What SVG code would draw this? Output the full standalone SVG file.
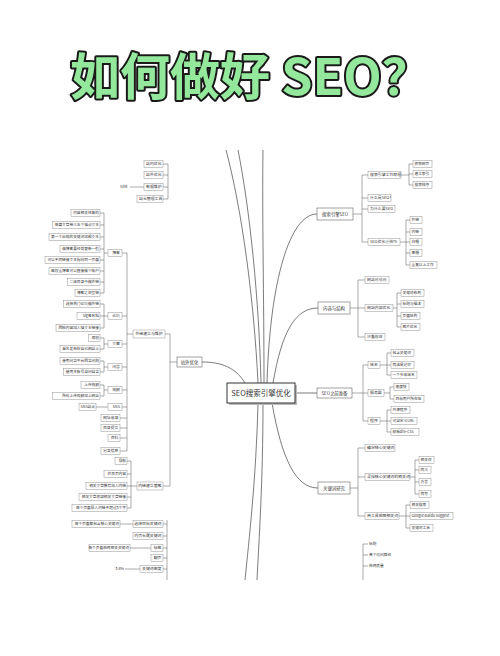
<svg xmlns="http://www.w3.org/2000/svg" width="500" height="656" viewBox="0 0 500 656">
<style>
text{font-family:"Noto Sans CJK SC","Noto Sans",sans-serif;fill:#333}
.lf{font-size:3.7px}
.nd{font-size:3.9px}
.mn{font-size:4.4px}
.L text{text-anchor:end}
.bx{fill:#fff;stroke:#888;stroke-width:0.45}
.mb{fill:#fff;stroke:#666;stroke-width:0.6}
.ln{fill:none;stroke:#555;stroke-width:0.5}
.cv{fill:none;stroke:#444;stroke-width:0.7}
.ttl{font-size:50px;font-weight:bold;fill:#93e89c;stroke:#1a1a1a;stroke-width:4;paint-order:stroke;stroke-linejoin:round}
</style>
<rect width="500" height="656" fill="#fff"/>
<text class="ttl" x="70" y="95">如何做好 SEO？</text>

<g id="connectors">
<path class="cv" d="M202,362 C222,362 236,368 245,383"/>
<path class="cv" d="M258,383 C254,300 242,210 226,150"/>
<path class="cv" d="M261,383 C259,300 250,210 238,150"/>
<path class="cv" d="M264,383 C264,300 262,210 263,150"/>
<path class="cv" d="M267,383 C270,280 290,214 317,214"/>
<path class="cv" d="M273,383 C282,330 296,308 318,308"/>
<path class="cv" d="M295,393 H317"/>
<path class="cv" d="M272,403 C282,460 296,488 318,488"/>
<path class="cv" d="M258,403 C256,480 249,540 245,580"/>
<path class="cv" d="M263,403 C263,480 259,540 257,580"/>
<path class="ln" d="M168,164V199M163,164H168M163,175H168M163,187H168M163,199H168M130,187H144"/>
<path class="ln" d="M104,213V293M100,213H104M100,225H104M100,237H104M100,249H104M100,260H104M100,271H104M100,282H104M100,293H104M104,253H108"/>
<path class="ln" d="M104,304V328M100,304H104M100,316H104M100,328H104M104,316H108"/>
<path class="ln" d="M104,338V349M100,338H104M100,349H104M104,344H108"/>
<path class="ln" d="M104,361V372M100,361H104M100,372H104M104,367H108"/>
<path class="ln" d="M104,385V396M100,385H104M100,396H104M104,390H108"/>
<path class="ln" d="M96,407H108"/>
<path class="ln" d="M127,253V451M122,253H127M122,316H127M122,344H127M122,367H127M122,390H127M122,407H127M120,418H127M120,428H127M120,438H127M120,451H127M127,334H133"/>
<path class="ln" d="M165,334H170M170,334V486M170,362H177"/>
<path class="ln" d="M131,461V508M127,461H131M127,474H131M127,486H131M127,497H131M127,508H131M131,486H137M163,486H170"/>
<path class="ln" d="M167,520V580M120,524H133M163,524H167M163,536H167M130,548H151M163,548H167M163,558H167M125,569H140M163,569H167"/>
<path class="ln" d="M353,214H362M362,175V242M362,175H368M362,198H368M362,209H368M362,242H368"/>
<path class="ln" d="M401,175H409M409,164V185M409,164H413M409,174H413M409,185H413"/>
<path class="ln" d="M400,242H406M406,220V265M406,220H410M406,232H410M406,242H410M406,253H410M406,265H410"/>
<path class="ln" d="M350,308H358M358,280V337M358,280H365M358,308H365M358,337H365"/>
<path class="ln" d="M393,308H397M397,293V327M397,293H401M397,304H401M397,316H401M397,327H401"/>
<path class="ln" d="M352,393H363M363,365V421M363,365H368M363,393H368M363,421H368"/>
<path class="ln" d="M380,365H387M387,353V375M387,353H391M387,365H391M387,375H391"/>
<path class="ln" d="M384,393H390M390,387V399M390,387H394M390,399H394"/>
<path class="ln" d="M380,421H387M387,410V432M387,410H391M387,421H391M387,432H391"/>
<path class="ln" d="M350,488H358M358,448V516M358,448H365M358,477H365M358,516H365"/>
<path class="ln" d="M410,477H415M415,460V494M415,460H419M415,470H419M415,482H419M415,494H419"/>
<path class="ln" d="M399,516H406M406,505V528M406,505H410M406,516H410M406,528H410"/>
<path class="ln" d="M363,544V580M363,544H368M363,555H368M363,566H368"/>
</g>

<g id="center">
<rect x="229" y="385" width="68" height="20" fill="#bbb"/>
<rect x="227" y="383" width="68" height="20" fill="#fff" stroke="#333" stroke-width="1"/>
<text x="261" y="396" font-size="7.5" text-anchor="middle">SEO搜索引擎优化</text>
</g>

<g id="top-left">
<rect class="bx" x="144" y="160.5" width="19" height="7"/><text class="nd" x="146" y="165.4">站内优化</text>
<rect class="bx" x="144" y="171.5" width="19" height="7"/><text class="nd" x="146" y="176.4">站外优化</text>
<rect class="bx" x="144" y="183.5" width="19" height="7"/><text class="nd" x="146" y="188.4">数据维护</text>
<rect class="bx" x="137" y="195.5" width="26" height="7"/><text class="nd" x="139" y="200.4">站长管理工具</text>
<text class="lf" x="120" y="188.3">SEM</text>
</g>

<g id="zhanwai">
<rect class="mb" x="177" y="357" width="25" height="10"/><text class="mn" x="189.5" y="363.5" text-anchor="middle">站外优化</text>
<rect class="bx" x="133" y="330" width="32" height="8"/><text class="nd" x="149" y="335.4" text-anchor="middle">外链建立与维护</text>
</g>

<g id="boke" class="L">
<rect class="bx" x="108" y="249.5" width="14" height="7"/><text class="nd" x="120" y="254.4">博客</text>
<rect class="bx" x="71" y="209.5" width="29" height="7"/><text class="lf" x="99" y="214.3">内容相关性高的</text>
<rect class="bx" x="52.5" y="221.5" width="47.5" height="7"/><text class="lf" x="99" y="226.3">每篇文章带三五个锚点文本</text>
<rect class="bx" x="49" y="233.5" width="51" height="7"/><text class="lf" x="99" y="238.3">第一个出现的关键词加粗文本</text>
<rect class="bx" x="60" y="245.5" width="40" height="7"/><text class="lf" x="99" y="250.3">做博客要经常更新一些</text>
<rect class="bx" x="45" y="256.5" width="55" height="7"/><text class="lf" x="99" y="261.3">可以不同链接文本指向同一页面</text>
<rect class="bx" x="49" y="267.5" width="51" height="7"/><text class="lf" x="99" y="272.3">高权重博客可以直接做个账户</text>
<rect class="bx" x="67.5" y="278.5" width="32.5" height="7"/><text class="lf" x="99" y="283.3">二级目录中做外链</text>
<rect class="bx" x="75" y="289.5" width="25" height="7"/><text class="lf" x="99" y="294.3">博客之间互链</text>
</g>

<g id="luntan" class="L">
<rect class="bx" x="108" y="312.5" width="14" height="7"/><text class="nd" x="120" y="317.4">论坛</text>
<rect class="bx" x="63.5" y="300.5" width="36.5" height="7"/><text class="lf" x="99" y="305.3">选择热门论坛做外链</text>
<rect class="bx" x="77" y="312.5" width="23" height="7"/><text class="lf" x="99" y="317.3">Sig签名档</text>
<rect class="bx" x="56" y="324.5" width="44" height="7"/><text class="lf" x="99" y="329.3">回帖内容加入锚文本链接</text>
</g>

<g id="wenzhang" class="L">
<rect class="bx" x="108" y="340.5" width="14" height="7"/><text class="nd" x="120" y="345.4">文章</text>
<rect class="bx" x="88.5" y="334.5" width="11.5" height="7"/><text class="lf" x="99" y="339.3">原创</text>
<rect class="bx" x="60" y="345.5" width="40" height="7"/><text class="lf" x="99" y="350.3">首先发布在自己网站上</text>
</g>

<g id="wenda" class="L">
<rect class="bx" x="108" y="363.5" width="14" height="7"/><text class="nd" x="120" y="368.4">问答</text>
<rect class="bx" x="60" y="357.5" width="40" height="7"/><text class="lf" x="99" y="362.3">使用问答平台回答问题</text>
<rect class="bx" x="63.5" y="368.5" width="36.5" height="7"/><text class="lf" x="99" y="373.3">使用多账号自问自答</text>
</g>

<g id="shipin" class="L">
<rect class="bx" x="108" y="386.5" width="14" height="7"/><text class="nd" x="120" y="391.4">视频</text>
<rect class="bx" x="81" y="381.5" width="19" height="7"/><text class="lf" x="99" y="386.3">上传视频</text>
<rect class="bx" x="52.5" y="392.5" width="47.5" height="7"/><text class="lf" x="99" y="397.3">所有上传视频加上网址</text>
</g>

<g id="sns" class="L">
<rect class="bx" x="108" y="403.5" width="14" height="7"/><text class="nd" x="120" y="408.4">SNS</text>
<rect class="bx" x="79" y="403.5" width="17" height="7"/><text class="lf" x="95" y="408.3">SNS站点</text>
</g>

<g id="others" class="L">
<rect class="bx" x="101" y="414.5" width="19" height="7"/><text class="nd" x="118.5" y="419.4">网址收录</text>
<rect class="bx" x="101" y="424.5" width="19" height="7"/><text class="nd" x="118.5" y="429.4">目录提交</text>
<rect class="bx" x="108" y="434.5" width="12" height="7"/><text class="nd" x="118.5" y="439.4">百科</text>
<rect class="bx" x="101" y="447.5" width="19" height="7"/><text class="nd" x="118.5" y="452.4">分类信息</text>
</g>

<g id="neilian" class="L">
<rect class="bx" x="137" y="482" width="26" height="8"/><text class="nd" x="161.5" y="487.4">内链建立策略</text>
<rect class="bx" x="115" y="457.5" width="12" height="7"/><text class="lf" x="126" y="462.3">导航</text>
<rect class="bx" x="104" y="470.5" width="23" height="7"/><text class="lf" x="126" y="475.3">栏目页内容</text>
<rect class="bx" x="86" y="482.5" width="41" height="7"/><text class="lf" x="126" y="487.3">相关文章推荐加入内链</text>
<rect class="bx" x="79" y="493.5" width="48" height="7"/><text class="lf" x="126" y="498.3">相关文章底部相关文章链接</text>
<rect class="bx" x="72" y="504.5" width="55" height="7"/><text class="lf" x="126" y="509.3">每个页面导入内链不超过3个字</text>
</g>

<g id="buju" class="L">
<rect class="bx" x="72" y="520.5" width="48" height="7"/><text class="lf" x="119" y="525.3">每个页面都包含核心关键词</text>
<rect class="bx" x="133" y="520.5" width="30" height="7"/><text class="nd" x="161.5" y="525.4">选择目标关键词</text>
<rect class="bx" x="133" y="532.5" width="30" height="7"/><text class="nd" x="161.5" y="537.4">内页长尾关键词</text>
<rect class="bx" x="89" y="544.5" width="41" height="7"/><text class="lf" x="129" y="549.3">每个页面布局相关关键词</text>
<rect class="bx" x="151" y="544.5" width="12" height="7"/><text class="nd" x="161.5" y="549.4">标签</text>
<rect class="bx" x="151" y="554.5" width="12" height="7"/><text class="nd" x="161.5" y="559.4">翻页</text>
<text class="lf" x="124" y="570.3">3-8%</text>
<rect class="bx" x="140" y="565.5" width="23" height="7"/><text class="nd" x="161.5" y="570.4">关键词密度</text>
</g>

<g id="seo-basics">
<rect class="mb" x="317" y="208" width="36" height="12"/><text class="mn" x="335" y="215.5" text-anchor="middle">搜索引擎SEO</text>
<rect class="bx" x="368" y="171.5" width="33" height="7"/><text class="nd" x="370" y="176.4">搜索引擎工作原理</text>
<rect class="bx" x="413" y="160.5" width="19" height="7"/><text class="lf" x="414.5" y="165.3">抓取网页</text>
<rect class="bx" x="413" y="170.5" width="19" height="7"/><text class="lf" x="414.5" y="175.3">建立索引</text>
<rect class="bx" x="413" y="181.5" width="19" height="7"/><text class="lf" x="414.5" y="186.3">搜索排序</text>
<rect class="bx" x="368" y="194.5" width="23" height="7"/><text class="nd" x="370" y="199.4">什么是SEO?</text>
<rect class="bx" x="368" y="205.5" width="27" height="7"/><text class="nd" x="370" y="210.4">为什么要SEO</text>
<rect class="bx" x="368" y="238.5" width="32" height="7"/><text class="nd" x="370" y="243.4">SEO优化小技巧</text>
<rect class="bx" x="410" y="216.5" width="12" height="7"/><text class="lf" x="411.5" y="221.3">外链</text>
<rect class="bx" x="410" y="228.5" width="12" height="7"/><text class="lf" x="411.5" y="233.3">内链</text>
<rect class="bx" x="410" y="238.5" width="12" height="7"/><text class="lf" x="411.5" y="243.3">白帽</text>
<rect class="bx" x="410" y="249.5" width="12" height="7"/><text class="lf" x="411.5" y="254.3">黑帽</text>
<rect class="bx" x="410" y="261.5" width="27" height="7"/><text class="lf" x="411.5" y="266.3">重复以上工作</text>
</g>

<g id="structure">
<rect class="mb" x="318" y="302" width="32" height="12"/><text class="mn" x="334" y="309.5" text-anchor="middle">内容与结构</text>
<rect class="bx" x="365" y="276.5" width="24" height="7"/><text class="nd" x="367" y="281.4">网站可访问</text>
<rect class="bx" x="365" y="304.5" width="28" height="7"/><text class="nd" x="367" y="309.4">网站内部优化</text>
<rect class="bx" x="401" y="289.5" width="23" height="7"/><text class="lf" x="402.5" y="294.3">关键词布局</text>
<rect class="bx" x="401" y="300.5" width="23" height="7"/><text class="lf" x="402.5" y="305.3">标题与描述</text>
<rect class="bx" x="401" y="312.5" width="19" height="7"/><text class="lf" x="402.5" y="317.3">页面结构</text>
<rect class="bx" x="401" y="323.5" width="19" height="7"/><text class="lf" x="402.5" y="328.3">图片优化</text>
<rect class="bx" x="365" y="333.5" width="20" height="7"/><text class="nd" x="367" y="338.4">沙盒效应</text>
</g>

<g id="prepare">
<rect class="mb" x="317" y="388" width="35" height="10"/><text class="mn" x="334.5" y="394.5" text-anchor="middle">SEO之前准备</text>
<rect class="bx" x="368" y="361.5" width="12" height="7"/><text class="nd" x="370" y="366.4">域名</text>
<rect class="bx" x="391" y="349.5" width="23" height="7"/><text class="lf" x="392.5" y="354.3">包含关键词</text>
<rect class="bx" x="391" y="361.5" width="23" height="7"/><text class="lf" x="392.5" y="366.3">简洁易记忆</text>
<rect class="bx" x="391" y="371.5" width="26" height="7"/><text class="lf" x="392.5" y="376.3">一个多级域名</text>
<rect class="bx" x="368" y="389.5" width="16" height="7"/><text class="nd" x="370" y="394.4">服务器</text>
<rect class="bx" x="394" y="383.5" width="15" height="7"/><text class="lf" x="395.5" y="388.3">速度快</text>
<rect class="bx" x="394" y="395.5" width="30" height="7"/><text class="lf" x="395.5" y="400.3">目标用户所在地</text>
<rect class="bx" x="368" y="417.5" width="12" height="7"/><text class="nd" x="370" y="422.4">程序</text>
<rect class="bx" x="391" y="406.5" width="19" height="7"/><text class="lf" x="392.5" y="411.3">开源程序</text>
<rect class="bx" x="391" y="417.5" width="26" height="7"/><text class="lf" x="392.5" y="422.3">可自定义URL</text>
<rect class="bx" x="391" y="428.5" width="28" height="7"/><text class="lf" x="392.5" y="433.3">模板div+CSS</text>
</g>

<g id="keywords">
<rect class="mb" x="318" y="482" width="32" height="12"/><text class="mn" x="334" y="489.5" text-anchor="middle">关键词研究</text>
<rect class="bx" x="365" y="444.5" width="30" height="7"/><text class="nd" x="367" y="449.4">确定核心关键词</text>
<rect class="bx" x="365" y="473.5" width="45" height="7"/><text class="nd" x="367" y="478.4">寻找核心关键词的相关词</text>
<rect class="bx" x="419" y="456.5" width="15" height="7"/><text class="lf" x="420.5" y="461.3">相关词</text>
<rect class="bx" x="419" y="466.5" width="12" height="7"/><text class="lf" x="420.5" y="471.3">同义</text>
<rect class="bx" x="419" y="478.5" width="12" height="7"/><text class="lf" x="420.5" y="483.3">方言</text>
<rect class="bx" x="419" y="490.5" width="12" height="7"/><text class="lf" x="420.5" y="495.3">简写</text>
<rect class="bx" x="365" y="512.5" width="34" height="7"/><text class="nd" x="367" y="517.4">用工具挖掘相关词</text>
<rect class="bx" x="410" y="501.5" width="19" height="7"/><text class="lf" x="411.5" y="506.3">相关搜索</text>
<rect class="bx" x="410" y="512.5" width="43" height="7"/><text class="lf" x="411.5" y="517.3">Google/Baidu suggest</text>
<rect class="bx" x="410" y="524.5" width="23" height="7"/><text class="lf" x="411.5" y="529.3">关键词工具</text>
</g>

<g id="bottom-right">
<text class="lf" x="369" y="545.3">标题</text>
<text class="lf" x="369" y="556.3">各个访问路径</text>
<text class="lf" x="369" y="567.3">布局质量</text>
</g>
</svg>
